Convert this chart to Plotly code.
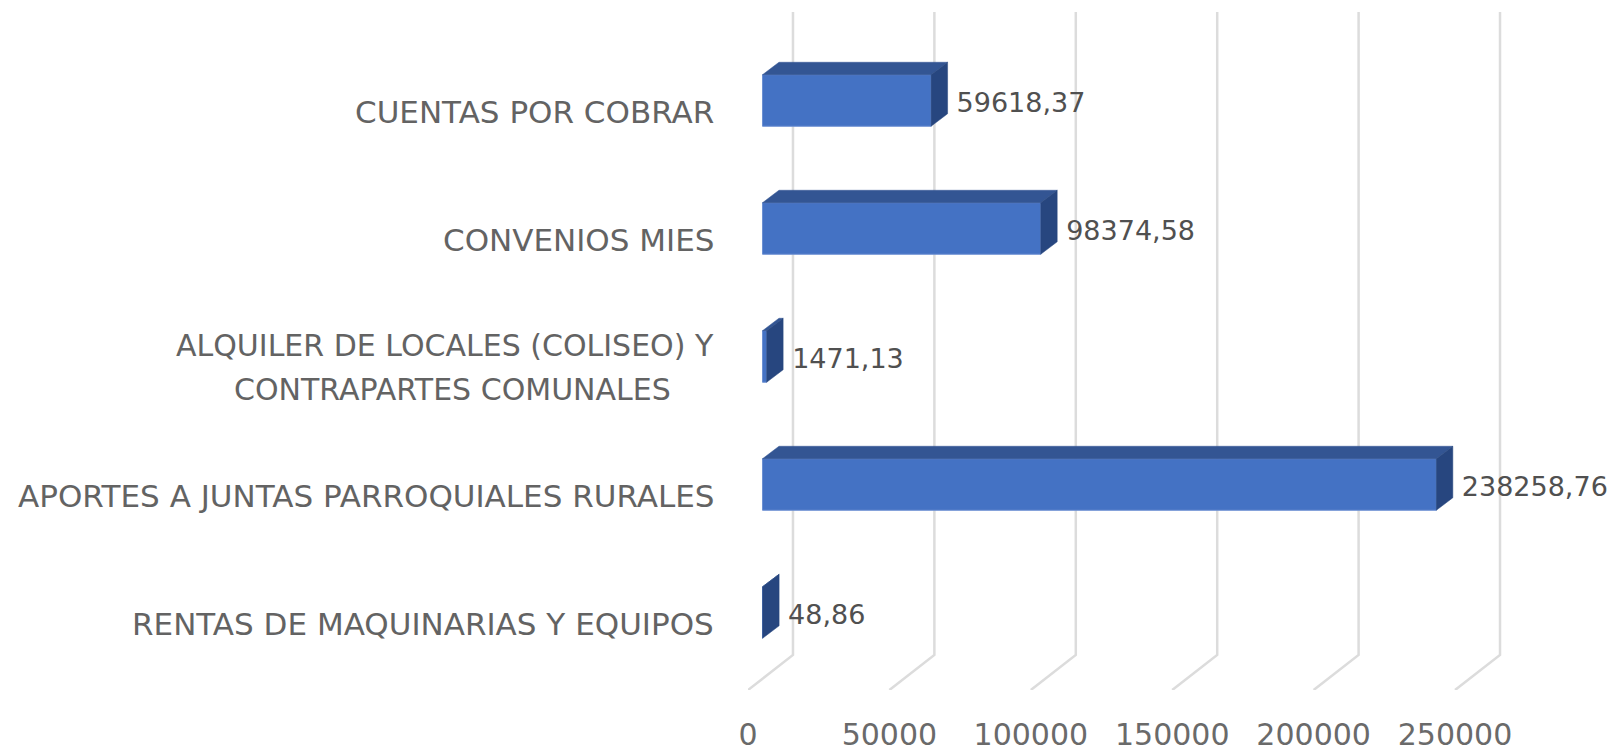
import plotly.graph_objects as go

# ---- data ----
categories = [
    "RENTAS DE MAQUINARIAS Y EQUIPOS",
    "APORTES A JUNTAS PARROQUIALES RURALES",
    "ALQUILER DE LOCALES (COLISEO) Y<br>CONTRAPARTES COMUNALES",
    "CONVENIOS MIES",
    "CUENTAS POR COBRAR",
]
category_rows = [0, 1, 2, 3, 4]
values = [48.86, 238258.76, 1471.13, 98374.58, 59618.37]
x_ticks = [0, 50000, 100000, 150000, 200000, 250000]

# ---- pseudo-3D geometry, in axis units ----
PX_PER_VALUE = 141.5 / 50000
PX_PER_ROW = 128.0
PLOT_L, PLOT_R, PLOT_T, PLOT_B = 747.5, 1520, 12, 690
ROW0_PX = 612.5

def vx(px):
    return px / PX_PER_VALUE

def vy(px):
    return px / PX_PER_ROW

BASE = vx(14.5)
BAR_DX, BAR_DY = vx(16.5), vy(12.5)
FLOOR_DX, FLOOR_DY = vx(45), vy(35)
BAR_H = vy(51.5)
Y_BOTTOM = vy(ROW0_PX - PLOT_B)
Y_TOP = vy(ROW0_PX - PLOT_T)

FRONT, TOP, SIDE = "#4472C4", "#335593", "#27467F"
GRID = "#DCDCDC"
TEXT = "#636363"
LABEL_FONT = "DejaVu Sans"
NUM_FONT = "DejaVu Sans"

fig = go.Figure()

# front faces
fig.add_trace(go.Bar(
    y=category_rows, x=values, base=BASE, orientation="h", width=BAR_H,
    marker=dict(color=FRONT, line=dict(color="#6C90D2", width=1)),
    hoverinfo="skip", showlegend=False,
))

# top and side faces
for r, v in zip(category_rows, values):
    yt, yb = r + BAR_H / 2, r - BAR_H / 2
    xr = BASE + v
    fig.add_trace(go.Scatter(
        x=[BASE, xr, xr + BAR_DX, BASE + BAR_DX, BASE],
        y=[yt, yt, yt + BAR_DY, yt + BAR_DY, yt],
        mode="lines", fill="toself", fillcolor=TOP, line=dict(color=TOP, width=0.5),
        hoverinfo="skip", showlegend=False, cliponaxis=False,
    ))
    fig.add_trace(go.Scatter(
        x=[xr, xr + BAR_DX, xr + BAR_DX, xr, xr],
        y=[yt, yt + BAR_DY, yb + BAR_DY, yb, yt],
        mode="lines", fill="toself", fillcolor=SIDE, line=dict(color=SIDE, width=0.5),
        hoverinfo="skip", showlegend=False, cliponaxis=False,
    ))

# data labels
fig.add_trace(go.Scatter(
    x=[BASE + v + BAR_DX + vx(9) for v in values],
    y=[r - vy(5) for r in category_rows],
    mode="text", textposition="middle right",
    text=[f"{v:.2f}".replace(".", ",") for v in values],
    textfont=dict(family=NUM_FONT, size=27, color="#505050"),
    hoverinfo="skip", showlegend=False, cliponaxis=False,
))

# gridlines: floor diagonal then back wall
shapes = []
for t in x_ticks:
    shapes.append(dict(
        type="path", layer="below", xref="x", yref="y",
        path=f"M {t} {Y_BOTTOM} L {t + FLOOR_DX} {Y_BOTTOM + FLOOR_DY} L {t + FLOOR_DX} {Y_TOP}",
        line=dict(color=GRID, width=2.5),
    ))

# category labels
annotations = []
for r, c in zip(category_rows, categories):
    lines = c.split("<br>")
    if len(lines) == 1:
        annotations.append(dict(
            xref="paper", yref="y", x=0, y=r - vy(11), xanchor="right", yanchor="middle",
            xshift=-32, text=c, showarrow=False,
            font=dict(family=LABEL_FONT, size=31, color=TEXT),
        ))
    else:
        for ln, dy, xs in zip(lines, (-22, 22), (-32, -75)):
            annotations.append(dict(
                xref="paper", yref="y", x=0, y=r - vy(11 + dy), xanchor="right", yanchor="middle",
                xshift=xs, text=ln, showarrow=False,
                font=dict(family=LABEL_FONT, size=30, color=TEXT),
            ))

fig.update_layout(
    width=1608, height=751, autosize=False,
    margin=dict(l=PLOT_L, r=1608 - PLOT_R, t=PLOT_T, b=751 - PLOT_B, pad=0),
    paper_bgcolor="white", plot_bgcolor="white",
    showlegend=False, shapes=shapes, annotations=annotations,
    xaxis=dict(
        range=[0, vx(PLOT_R - PLOT_L)], tickmode="array", tickvals=x_ticks,
        ticktext=[str(t) for t in x_ticks], automargin=False,
        showgrid=False, zeroline=False, showline=False,
        ticks="outside", ticklen=18, tickcolor="rgba(0,0,0,0)",
        tickfont=dict(family=NUM_FONT, size=30, color="#6A6A6A"),
    ),
    yaxis=dict(
        range=[Y_BOTTOM, Y_TOP], showticklabels=False, showgrid=False, automargin=False,
        zeroline=False, showline=False, ticks="",
    ),
)

fig.write_html(
    "out.html",
    config={"displayModeBar": False},
    post_script="document.body.style.margin='0';document.body.style.overflow='hidden';",
)
